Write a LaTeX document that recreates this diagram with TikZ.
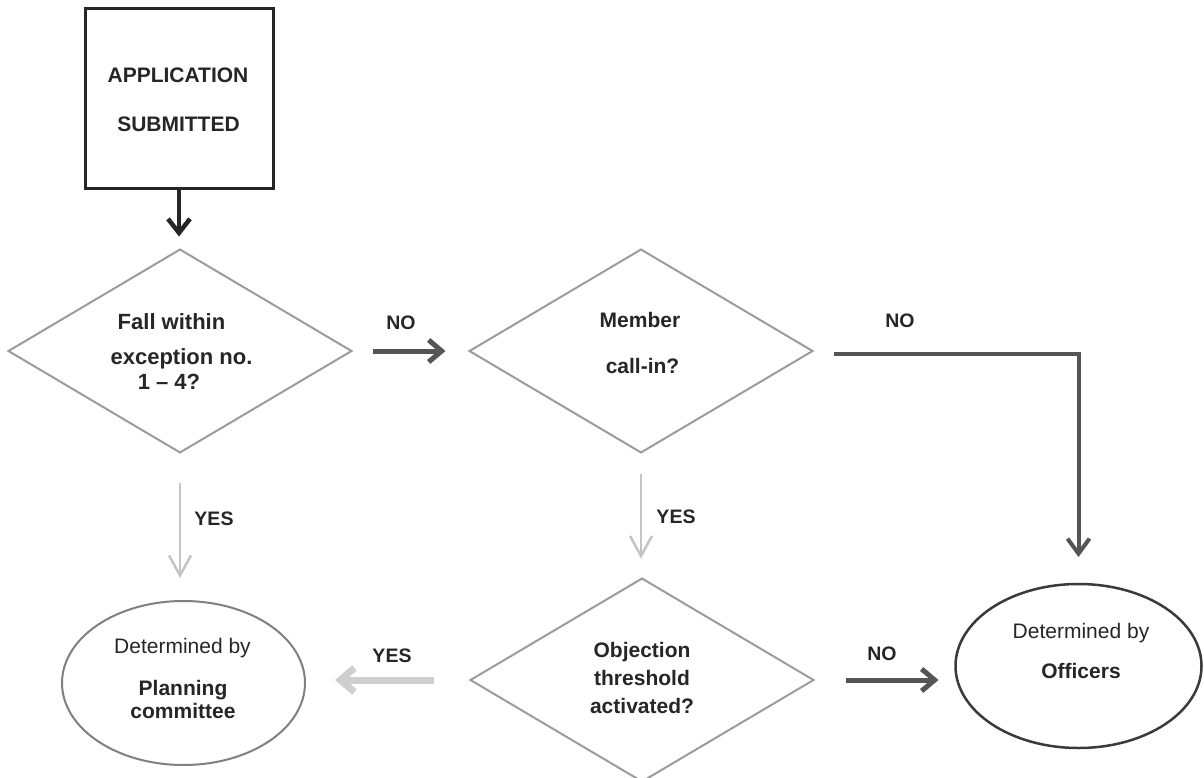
\documentclass[tikz,border=0pt]{standalone}
\usepackage{fontspec}
\setmainfont{Liberation Sans}
\usetikzlibrary{shapes.geometric,arrows.meta}
\definecolor{txtc}{HTML}{262626}
\definecolor{boxc}{HTML}{262626}
\definecolor{diac}{HTML}{9C9C9C}
\definecolor{noc}{HTML}{555555}
\definecolor{yesc}{HTML}{C4C4C4}
\definecolor{yeshc}{HTML}{CFCFCF}
\definecolor{ellc}{HTML}{808080}
\definecolor{elltc}{HTML}{3A3A3A}
\tikzset{
  lbl/.style={font=\fontsize{19.5}{23}\selectfont\bfseries, text=txtc, inner sep=0pt, anchor=base},
  btxt/.style={font=\fontsize{21}{25}\selectfont\bfseries, text=txtc, inner sep=0pt, anchor=base},
  bbtxt/.style={font=\fontsize{22}{26}\selectfont\bfseries, text=txtc, inner sep=0pt, anchor=base},
  rtxt/.style={font=\fontsize{21}{25}\selectfont, text=txtc, inner sep=0pt, anchor=base},
  decision/.style={diamond, draw=diac, line width=2pt, minimum width=343pt, minimum height=203pt, inner sep=0pt, outer sep=0pt},
  outcome/.style={ellipse, line width=2pt, inner sep=0pt, outer sep=0pt},
  startbox/.style={rectangle, draw=boxc, line width=3pt, minimum width=188pt, minimum height=180pt, inner sep=0pt, outer sep=0pt},
  noarrow/.style={draw=noc, line width=5pt, -{Straight Barb[length=13pt,width=22pt]}},
  yesarrow/.style={draw=yesc, line width=2.5pt, -{Straight Barb[length=20pt,width=22pt]}},
}
\begin{document}
\begin{tikzpicture}[x=1pt,y=-1pt]
\useasboundingbox[fill=white] (0,0) rectangle (1204,778);

% shapes
\node[startbox] (box) at (179,99) {};
\node[decision] (d1) at (180,351) {};
\node[decision] (d2) at (641,351) {};
\node[decision] (d3) at (642,680) {};
\node[outcome, draw=ellc, minimum width=243pt, minimum height=164pt] (e1) at (183.5,683) {};
\node[outcome, draw=elltc, line width=2.5pt, minimum width=246pt, minimum height=164pt] (e2) at (1078.5,666) {};

% texts
\node[btxt] (boxa) at (178,83) {APPLICATION};
\node[btxt] (boxb) at (178.5,132) {SUBMITTED};
\node[bbtxt] (d1a) at (171.5,329) {Fall within};
\node[bbtxt] (d1b) at (181.5,364) {exception no.};
\node[bbtxt] (d1c) at (169,389) {1 – 4?};
\node[btxt] (d2a) at (640,327) {Member};
\node[btxt] (d2b) at (642.5,373) {call-in?};
\node[btxt] (d3a) at (642,657) {Objection};
\node[btxt] (d3b) at (642,685) {threshold};
\node[btxt] (d3c) at (642,713) {activated?};
\node[rtxt] (e1a) at (182.5,653) {Determined by};
\node[btxt] (e1b) at (183,695) {Planning};
\node[btxt] (e1c) at (183,718) {committee};
\node[rtxt] (e2a) at (1081,638) {Determined by};
\node[btxt] (e2b) at (1081,678) {Officers};

% labels
\node[lbl] (no1) at (401,329) {NO};
\node[lbl] (no2) at (900,327) {NO};
\node[lbl] (yes1) at (214,525) {YES};
\node[lbl] (yes2) at (676,523) {YES};
\node[lbl] (yes3) at (392,662) {YES};
\node[lbl] (no3) at (882,660) {NO};

% connectors
\draw[draw=boxc, line width=4.5pt, -{Straight Barb[length=14pt,width=22pt]}, shorten >=13pt]
  (box.south) -- (box.south |- d1.north);
\draw[noarrow, shorten <=21pt, shorten >=24pt] (d1.east) -- (d2.west);
\draw[draw=noc, line width=4pt, -{Straight Barb[length=15pt,width=22pt]}, shorten <=21pt, shorten >=27pt]
  ([yshift=-3pt]d2.east) -| (e2.north);
\draw[yesarrow, shorten <=30pt, shorten >=23pt] (d1.south) -- (d1.south |- e1.north);
\draw[yesarrow, shorten <=21pt, shorten >=20pt] (d2.south) -- (d2.south |- d3.north);
\draw[draw=yeshc, line width=7pt, -{Straight Barb[length=14pt,width=24pt]}, shorten <=37pt, shorten >=30pt]
  (d3.west) -- (d3.west -| e1.east);
\draw[noarrow, shorten <=32pt, shorten >=17pt] (d3.east) -- (d3.east -| e2.west);
\end{tikzpicture}
\end{document}
